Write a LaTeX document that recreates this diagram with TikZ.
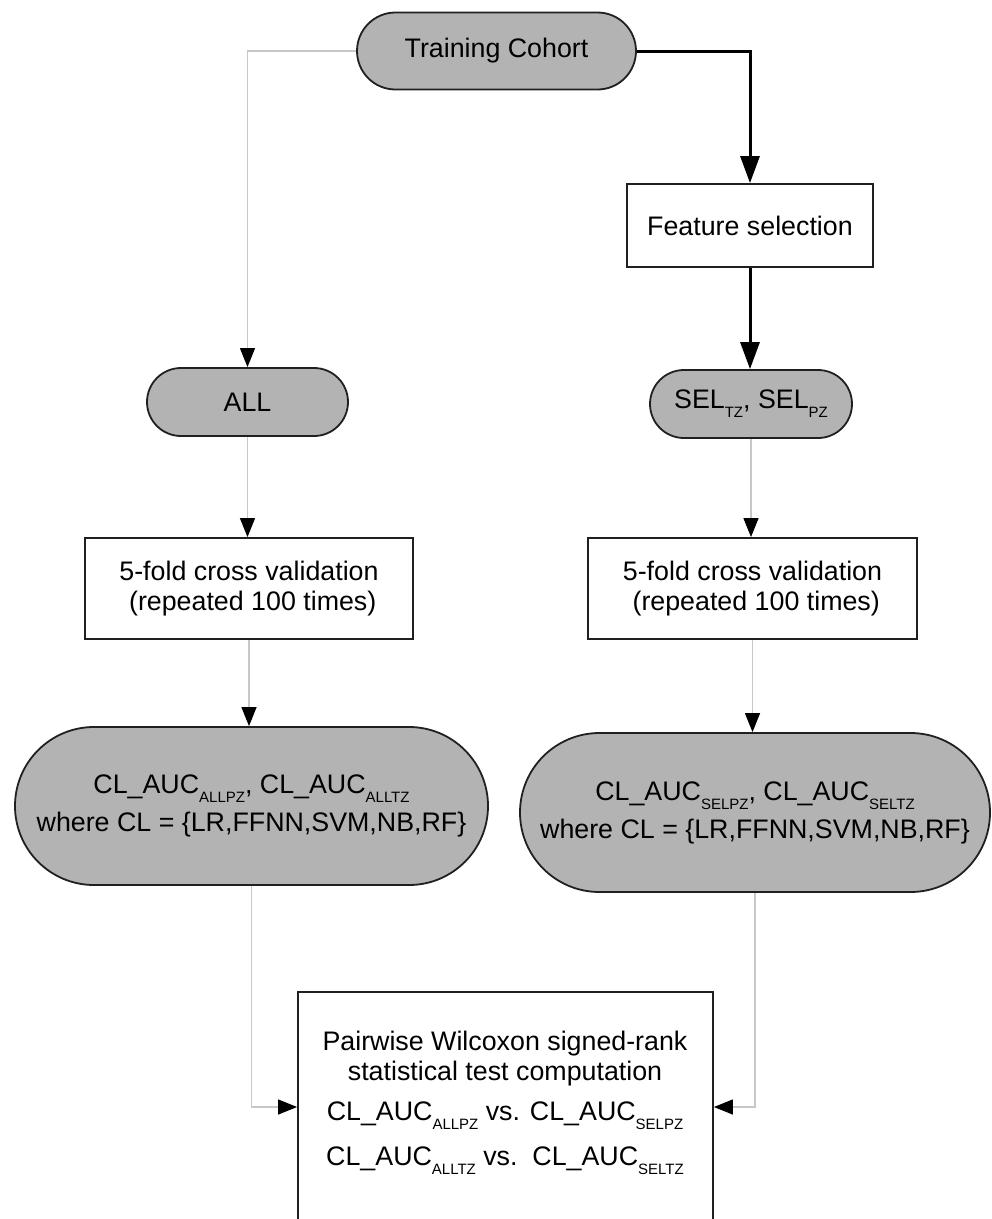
\documentclass[tikz,border=0pt]{standalone}
\usepackage{fontspec}
\setmainfont{Liberation Sans}
\usetikzlibrary{arrows.meta}
\definecolor{termfill}{HTML}{B3B3B3}
\definecolor{edgedark}{HTML}{202020}
\definecolor{thinline}{HTML}{C8C8C8}
\newcommand\lowsub[1]{\raisebox{-9pt}{\fontsize{15pt}{15pt}\selectfont #1}}
\begin{document}
\begin{tikzpicture}[x=1pt,y=-1pt,
  basebox/.style={draw=edgedark, line width=1.8pt, inner sep=0pt, align=center,
    font=\fontsize{26.8pt}{30pt}\selectfont},
  term/.style={basebox, fill=termfill, rounded corners=#1},
  procbox/.style={basebox, fill=white},
  graylink/.style={draw=thinline, line width=1.2pt,
    -{Triangle[length=19pt,width=15pt,color=black]}},
  blacklink/.style={draw=black, line width=3pt,
    -{Triangle[length=27pt,width=19pt]}},
  plaintext/.style={inner sep=0pt, align=center, font=\fontsize{26.8pt}{30pt}\selectfont}
]
\useasboundingbox (0,0) rectangle (992,1219);
\clip (0,0) rectangle (992,1219);
\fill[white] (0,0) rectangle (992,1219);

\node[term=38.5pt, minimum width=279pt, minimum height=77pt] (tc) at (496.5,51) {Training Cohort};
\node[procbox, minimum width=246pt, minimum height=83pt] (fs) at (750,225.5) {Feature selection};
\node[term=34pt, minimum width=202pt, minimum height=68pt] (sel) at (751,404) {SEL\lowsub{TZ}, SEL\lowsub{PZ}};
\node[term=34pt, minimum width=201pt, minimum height=68pt] (all) at (247.5,402) {ALL};
\node[procbox, minimum width=328pt, minimum height=101pt] (cvL) at (249,588.5) {5-fold cross validation\\\ (repeated 100 times)};
\node[procbox, minimum width=329pt, minimum height=101pt] (cvR) at (752.5,588.5) {5-fold cross validation\\\ (repeated 100 times)};
\node[term=79pt, minimum width=473pt, minimum height=158pt] (clL) at (251.5,806) {CL\_AUC\lowsub{ALLPZ}, CL\_AUC\lowsub{ALLTZ}\\[8pt]where CL = \{LR,FFNN,SVM,NB,RF\}};
\node[term=79.5pt, minimum width=470pt, minimum height=159pt] (clR) at (755,812.5) {CL\_AUC\lowsub{SELPZ}, CL\_AUC\lowsub{SELTZ}\\[8pt]where CL = \{LR,FFNN,SVM,NB,RF\}};
\node[procbox, minimum width=415pt, minimum height=230pt] (wbox) at (505.5,1107) {};
\node[plaintext, anchor=north] (wtext) at (505,1031) {Pairwise Wilcoxon signed-rank\\statistical test computation\\[10pt]CL\_AUC\lowsub{ALLPZ} vs. CL\_AUC\lowsub{SELPZ}\\[15pt]CL\_AUC\lowsub{ALLTZ} vs.\ \ CL\_AUC\lowsub{SELTZ}};

\draw[graylink] (tc.west) -| (all.north);
\draw[blacklink] (tc.east) -| (fs.north);
\draw[blacklink] (fs.south) -- (fs.south |- sel.north);
\draw[graylink] (all.south) -- (all.south |- cvL.north);
\draw[graylink] (sel.south) -- (sel.south |- cvR.north);
\draw[graylink] (cvL.south) -- (cvL.south |- clL.north);
\draw[graylink] (cvR.south) -- (cvR.south |- clR.north);
\draw[graylink] (clL.south) |- (wbox.west);
\draw[graylink] (clR.south) |- (wbox.east);
\end{tikzpicture}
\end{document}
